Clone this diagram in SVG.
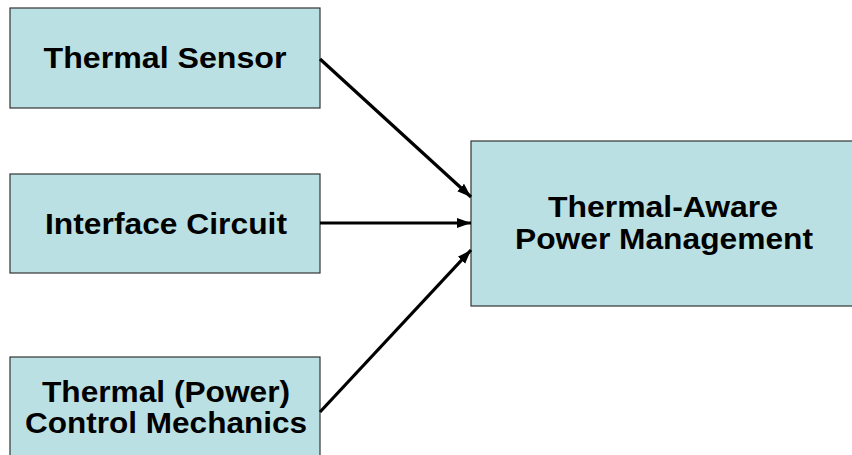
<svg xmlns="http://www.w3.org/2000/svg" width="852" height="455" viewBox="0 0 852 455">
<style>
.box{fill:#BBE0E3;stroke:#333;stroke-width:1.2}
.t{font-family:"Liberation Sans",Arial,sans-serif;font-weight:bold;font-size:29px;fill:#000;text-anchor:middle}
.c{stroke:#000;stroke-width:3.2;fill:none;marker-end:url(#ah)}
</style>
<defs>
<marker id="ah" markerUnits="userSpaceOnUse" markerWidth="15" markerHeight="12" refX="14" refY="6" orient="auto">
<path d="M0,1 L14,6 L0,11 Z" fill="#000"/>
</marker>
</defs>
<rect width="852" height="455" fill="#fff"/>
<g id="sensor">
<rect class="box" x="10" y="8" width="310" height="100"/>
<text class="t" x="165" y="68" textLength="243" lengthAdjust="spacingAndGlyphs">Thermal Sensor</text>
</g>
<g id="interface">
<rect class="box" x="10" y="174" width="310" height="99"/>
<text class="t" x="166" y="234" textLength="242" lengthAdjust="spacingAndGlyphs">Interface Circuit</text>
</g>
<g id="control">
<rect class="box" x="10" y="357" width="310" height="110"/>
<text class="t" x="166" y="402" textLength="248" lengthAdjust="spacingAndGlyphs">Thermal (Power)</text>
<text class="t" x="166" y="433" textLength="282" lengthAdjust="spacingAndGlyphs">Control Mechanics</text>
</g>
<g id="tapm">
<rect class="box" x="471" y="141" width="390" height="165"/>
<text class="t" x="663" y="217" textLength="230" lengthAdjust="spacingAndGlyphs">Thermal-Aware</text>
<text class="t" x="664" y="249" textLength="298" lengthAdjust="spacingAndGlyphs">Power Management</text>
</g>
<g id="connectors">
<line class="c" x1="320" y1="59" x2="471" y2="197"/>
<line class="c" x1="320" y1="223" x2="471" y2="223"/>
<line class="c" x1="320" y1="412" x2="471" y2="250"/>
</g>
</svg>
